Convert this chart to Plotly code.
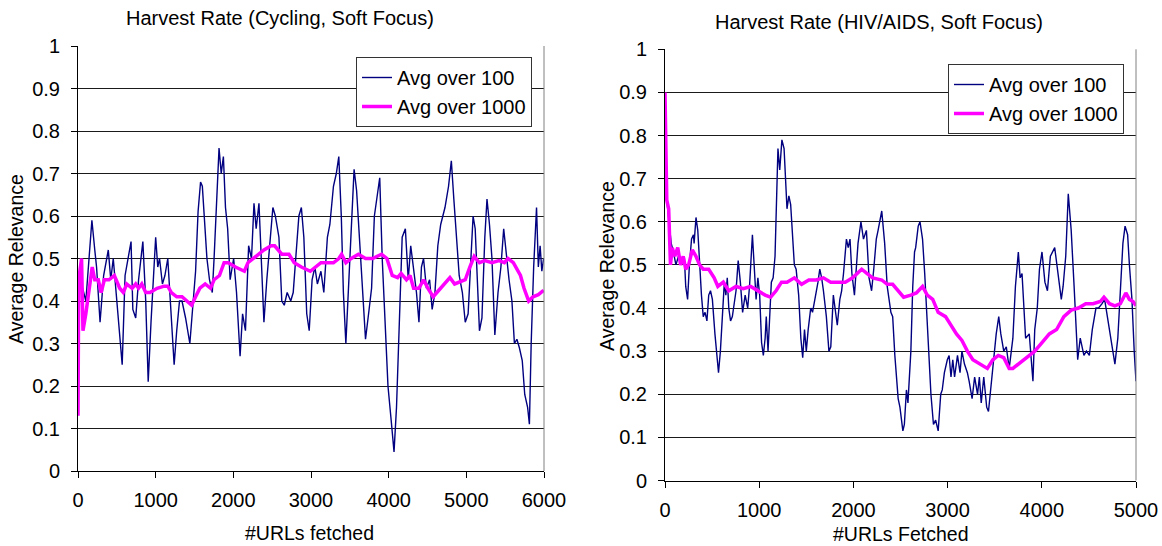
import plotly.graph_objects as go

# ---------------- data: left chart (Cycling) ----------------
cyc_x100 = [0, 32, 101, 179, 216, 239, 284, 330, 390, 422,
            454, 491, 537, 569, 606, 642, 683, 706, 743, 780,
            821, 835, 872, 904, 940, 972, 1000, 1027, 1050, 1087,
            1119, 1156, 1193, 1238, 1271, 1307, 1339, 1385, 1440, 1477,
            1514, 1546, 1578, 1601, 1628, 1660, 1693, 1729, 1752, 1784,
            1816, 1844, 1872, 1899, 1927, 1959, 2004, 2041, 2087, 2119,
            2156, 2197, 2234, 2266, 2294, 2330, 2362, 2394, 2431, 2472,
            2509, 2541, 2587, 2624, 2656, 2693, 2739, 2771, 2807, 2844,
            2876, 2908, 2945, 2977, 3014, 3050, 3082, 3128, 3165, 3211,
            3243, 3289, 3326, 3358, 3390, 3417, 3449, 3486, 3518, 3555,
            3587, 3624, 3665, 3702, 3748, 3780, 3816, 3853, 3885, 3917,
            3954, 3991, 4032, 4069, 4101, 4137, 4174, 4215, 4252, 4284,
            4321, 4358, 4390, 4422, 4449, 4486, 4527, 4560, 4596, 4633,
            4670, 4725, 4771, 4807, 4839, 4872, 4908, 4949, 4986, 5023,
            5055, 5087, 5114, 5146, 5169, 5201, 5238, 5266, 5298, 5330,
            5367, 5408, 5445, 5481, 5514, 5550, 5587, 5619, 5651, 5683,
            5720, 5752, 5789, 5812, 5835, 5867, 5904, 5927, 5950, 5972,
            5995]
cyc_y100 = [0.45, 0.45, 0.40, 0.59, 0.52, 0.48, 0.35, 0.46, 0.52, 0.45,
            0.50, 0.42, 0.30, 0.25, 0.46, 0.50, 0.54, 0.38, 0.36, 0.45,
            0.53, 0.54, 0.40, 0.21, 0.35, 0.45, 0.55, 0.48, 0.50, 0.44,
            0.46, 0.50, 0.38, 0.25, 0.33, 0.40, 0.40, 0.36, 0.30, 0.38,
            0.47, 0.61, 0.68, 0.67, 0.60, 0.50, 0.45, 0.42, 0.50, 0.62,
            0.76, 0.70, 0.74, 0.62, 0.57, 0.45, 0.50, 0.42, 0.27, 0.37,
            0.33, 0.53, 0.50, 0.63, 0.57, 0.63, 0.50, 0.35, 0.45, 0.55,
            0.62, 0.60, 0.55, 0.40, 0.39, 0.42, 0.40, 0.42, 0.50, 0.60,
            0.62, 0.55, 0.37, 0.33, 0.45, 0.48, 0.44, 0.47, 0.42, 0.55,
            0.58, 0.67, 0.70, 0.74, 0.60, 0.42, 0.30, 0.45, 0.58, 0.71,
            0.66, 0.54, 0.40, 0.31, 0.38, 0.43, 0.60, 0.65, 0.69, 0.50,
            0.35, 0.20, 0.12, 0.045, 0.15, 0.35, 0.55, 0.57, 0.45, 0.53,
            0.48, 0.42, 0.35, 0.48, 0.50, 0.43, 0.45, 0.38, 0.42, 0.53,
            0.58, 0.62, 0.67, 0.73, 0.64, 0.55, 0.46, 0.42, 0.35, 0.37,
            0.50, 0.60, 0.57, 0.45, 0.33, 0.36, 0.55, 0.64, 0.58, 0.50,
            0.32, 0.42, 0.48, 0.57, 0.51, 0.45, 0.40, 0.30, 0.31, 0.29,
            0.26, 0.18, 0.15, 0.11, 0.30, 0.48, 0.62, 0.48, 0.53, 0.47,
            0.50]

cyc_x1000 = [0, 9, 46, 64, 101, 147, 183, 216, 261, 298,
             339, 399, 468, 537, 583, 628, 697, 743, 780, 821,
             872, 927, 1018, 1110, 1156, 1202, 1271, 1339, 1408, 1463,
             1514, 1569, 1638, 1706, 1752, 1821, 1881, 1936, 2027, 2142,
             2188, 2257, 2326, 2394, 2486, 2532, 2624, 2716, 2784, 2876,
             2991, 3059, 3128, 3220, 3289, 3358, 3394, 3449, 3518, 3610,
             3702, 3794, 3908, 3977, 4046, 4115, 4160, 4229, 4275, 4321,
             4390, 4449, 4504, 4573, 4642, 4711, 4789, 4849, 4917, 4986,
             5046, 5101, 5169, 5238, 5330, 5421, 5490, 5536, 5605, 5697,
             5743, 5803, 5858, 5927, 5995]
cyc_y1000 = [0.13, 0.45, 0.50, 0.33, 0.37, 0.43, 0.48, 0.45, 0.45, 0.42,
             0.45, 0.45, 0.46, 0.43, 0.42, 0.44, 0.43, 0.44, 0.43, 0.44,
             0.42, 0.42, 0.43, 0.435, 0.435, 0.42, 0.41, 0.41, 0.40, 0.39,
             0.41, 0.43, 0.44, 0.43, 0.45, 0.46, 0.49, 0.49, 0.48, 0.47,
             0.49, 0.50, 0.51, 0.52, 0.53, 0.53, 0.51, 0.51, 0.49, 0.48,
             0.47, 0.48, 0.49, 0.49, 0.49, 0.50, 0.51, 0.49, 0.50, 0.51,
             0.50, 0.50, 0.51, 0.50, 0.46, 0.455, 0.465, 0.45, 0.46, 0.43,
             0.43, 0.45, 0.43, 0.41, 0.425, 0.44, 0.455, 0.44, 0.445, 0.45,
             0.48, 0.505, 0.49, 0.495, 0.49, 0.495, 0.49, 0.50, 0.49, 0.46,
             0.43, 0.40, 0.41, 0.415, 0.425]

# ---------------- data: right chart (HIV/AIDS) ----------------
hiv_x100 = [19, 39, 66, 89, 116, 143, 174, 205, 220, 240,
            259, 282, 302, 309, 329, 348, 367, 387, 406, 425,
            445, 464, 483, 503, 530, 549, 568, 588, 607, 630,
            646, 661, 677, 696, 715, 735, 754, 777, 800, 824,
            851, 878, 897, 928, 947, 967, 986, 1005, 1025, 1044,
            1063, 1075, 1094, 1114, 1129, 1148, 1168, 1199, 1218, 1241,
            1264, 1295, 1315, 1334, 1373, 1392, 1419, 1442, 1462, 1481,
            1500, 1520, 1547, 1566, 1593, 1624, 1643, 1663, 1682, 1713,
            1740, 1760, 1787, 1829, 1856, 1875, 1895, 1926, 1945, 1964,
            1984, 2011, 2049, 2080, 2107, 2138, 2166, 2193, 2216, 2243,
            2262, 2282, 2301, 2332, 2359, 2398, 2417, 2440, 2475, 2494,
            2525, 2541, 2563, 2579, 2610, 2630, 2649, 2661, 2688, 2707,
            2734, 2757, 2777, 2796, 2823, 2850, 2873, 2900, 2927, 2943,
            2966, 2997, 3016, 3036, 3055, 3074, 3105, 3132, 3152, 3179,
            3210, 3229, 3260, 3287, 3318, 3337, 3357, 3384, 3415, 3434,
            3461, 3488, 3516, 3543, 3565, 3596, 3623, 3654, 3677, 3693,
            3720, 3751, 3770, 3790, 3828, 3867, 3906, 3925, 3952, 3975,
            4002, 4033, 4060, 4091, 4137, 4176, 4207, 4226, 4254, 4281,
            4312, 4343, 4381, 4408, 4447, 4474, 4505, 4536, 4575, 4602,
            4640, 4667, 4698, 4729, 4776, 4807, 4834, 4861, 4884, 4911,
            4930, 4957, 4981, 5000]
hiv_y100 = [0.65, 0.60, 0.55, 0.53, 0.50, 0.52, 0.50, 0.52, 0.45, 0.42,
            0.50, 0.56, 0.57, 0.55, 0.61, 0.58, 0.50, 0.43, 0.38, 0.39,
            0.37, 0.43, 0.44, 0.42, 0.34, 0.30, 0.25, 0.30, 0.37, 0.46,
            0.43, 0.47, 0.40, 0.37, 0.38, 0.41, 0.44, 0.51, 0.46, 0.39,
            0.43, 0.40, 0.45, 0.57, 0.50, 0.42, 0.47, 0.43, 0.32, 0.29,
            0.33, 0.38, 0.30, 0.40, 0.46, 0.47, 0.52, 0.77, 0.72, 0.79,
            0.77, 0.63, 0.66, 0.64, 0.50, 0.49, 0.43, 0.33, 0.285, 0.35,
            0.30, 0.35, 0.40, 0.39, 0.42, 0.46, 0.49, 0.47, 0.44, 0.38,
            0.30, 0.31, 0.43, 0.36, 0.42, 0.44, 0.48, 0.56, 0.54, 0.56,
            0.48, 0.43, 0.55, 0.60, 0.56, 0.58, 0.47, 0.44, 0.49, 0.56,
            0.58, 0.60, 0.625, 0.55, 0.45, 0.39, 0.38, 0.29, 0.19, 0.17,
            0.115, 0.13, 0.21, 0.18, 0.30, 0.45, 0.53, 0.54, 0.59, 0.60,
            0.56, 0.48, 0.40, 0.30, 0.20, 0.13, 0.14, 0.115, 0.20, 0.21,
            0.25, 0.28, 0.29, 0.24, 0.28, 0.24, 0.29, 0.25, 0.30, 0.27,
            0.25, 0.23, 0.19, 0.24, 0.20, 0.24, 0.18, 0.24, 0.17, 0.16,
            0.22, 0.27, 0.34, 0.38, 0.34, 0.30, 0.31, 0.26, 0.30, 0.33,
            0.45, 0.53, 0.47, 0.48, 0.33, 0.34, 0.23, 0.35, 0.40, 0.49,
            0.53, 0.46, 0.44, 0.52, 0.54, 0.48, 0.42, 0.45, 0.52, 0.665,
            0.58, 0.45, 0.28, 0.33, 0.29, 0.30, 0.29, 0.35, 0.40, 0.40,
            0.41, 0.42, 0.38, 0.34, 0.27, 0.33, 0.45, 0.55, 0.59, 0.57,
            0.50, 0.42, 0.30, 0.23]

hiv_x1000 = [0, 19, 39, 58, 77, 104, 135, 166, 193, 220,
             251, 290, 329, 367, 406, 464, 522, 561, 619, 677,
             754, 831, 909, 986, 1063, 1121, 1179, 1237, 1295, 1373,
             1450, 1527, 1605, 1682, 1759, 1837, 1914, 1991, 2088, 2146,
             2204, 2301, 2359, 2417, 2475, 2533, 2610, 2668, 2734, 2784,
             2842, 2900, 2978, 3036, 3094, 3152, 3210, 3268, 3345, 3422,
             3480, 3538, 3596, 3654, 3693, 3751, 3809, 3867, 3925, 4002,
             4080, 4157, 4234, 4312, 4389, 4466, 4544, 4621, 4660, 4718,
             4776, 4834, 4892, 4930, 4969, 5000]
hiv_y1000 = [0.90, 0.65, 0.63, 0.50, 0.54, 0.52, 0.54, 0.50, 0.52, 0.49,
             0.50, 0.535, 0.52, 0.50, 0.49, 0.49, 0.47, 0.45, 0.46, 0.44,
             0.45, 0.445, 0.45, 0.44, 0.43, 0.425, 0.44, 0.46, 0.46, 0.47,
             0.455, 0.465, 0.465, 0.47, 0.46, 0.46, 0.46, 0.47, 0.49, 0.48,
             0.47, 0.465, 0.455, 0.455, 0.44, 0.425, 0.43, 0.435, 0.45, 0.43,
             0.42, 0.39, 0.38, 0.36, 0.34, 0.325, 0.30, 0.28, 0.27, 0.26,
             0.28, 0.29, 0.285, 0.26, 0.26, 0.27, 0.28, 0.29, 0.30, 0.32,
             0.34, 0.35, 0.38, 0.395, 0.40, 0.41, 0.41, 0.415, 0.425, 0.41,
             0.405, 0.41, 0.435, 0.42, 0.415, 0.405]

# ---------------- labels / ticks ----------------
y_ticks = [0, 0.1, 0.2, 0.3, 0.4, 0.5, 0.6, 0.7, 0.8, 0.9, 1]
y_tick_text = ["0", "0.1", "0.2", "0.3", "0.4", "0.5", "0.6", "0.7", "0.8", "0.9", "1"]
x_ticks_left = [0, 1000, 2000, 3000, 4000, 5000, 6000]
x_ticks_right = [0, 1000, 2000, 3000, 4000, 5000]
series_names = ["Avg over 100", "Avg over 1000"]
titles = ["Harvest Rate (Cycling, Soft Focus)", "Harvest Rate (HIV/AIDS, Soft Focus)"]
x_titles = ["#URLs fetched", "#URLs Fetched"]
y_title = "Average Relevance"

FONT = "Liberation Sans, Arial, sans-serif"
FS = 19.5
FS_TITLE = 20
FS_TICK = 20
BLUE = "#000080"
MAGENTA = "#FF00FF"
W, H = 1162, 546

fig = go.Figure()
fig.add_trace(go.Scatter(x=cyc_x100, y=cyc_y100, mode="lines", name=series_names[0],
                         line=dict(color=BLUE, width=1.4), xaxis="x", yaxis="y", legend="legend"))
fig.add_trace(go.Scatter(x=cyc_x1000, y=cyc_y1000, mode="lines", name=series_names[1],
                         line=dict(color=MAGENTA, width=3.5), xaxis="x", yaxis="y", legend="legend"))
fig.add_trace(go.Scatter(x=hiv_x100, y=hiv_y100, mode="lines", name=series_names[0],
                         line=dict(color=BLUE, width=1.4), xaxis="x2", yaxis="y2", legend="legend2"))
fig.add_trace(go.Scatter(x=hiv_x1000, y=hiv_y1000, mode="lines", name=series_names[1],
                         line=dict(color=MAGENTA, width=3.5), xaxis="x2", yaxis="y2", legend="legend2"))

def px_x(p):
    return p / W

def px_y(p):
    return 1 - p / H

common_x = dict(showgrid=False, zeroline=False, showline=True, linecolor="black", linewidth=1,
                ticks="outside", ticklen=6, tickcolor="black", tickwidth=1, automargin=False,
                tickfont=dict(family=FONT, size=FS_TICK, color="black"), ticklabelstandoff=5)
common_y = dict(showgrid=True, gridcolor="#1a1a1a", gridwidth=1, zeroline=False, showline=True,
                linecolor="black", linewidth=1, ticks="outside", ticklen=6, tickcolor="black",
                tickwidth=1, tickfont=dict(family=FONT, size=FS_TICK, color="black"),
                tickvals=y_ticks, ticktext=y_tick_text, range=[0, 1], ticklabelstandoff=7,
                automargin=False)

legend_common = dict(font=dict(family=FONT, size=FS_TICK, color="black"), bgcolor="white",
                     bordercolor="#333333", borderwidth=1, xanchor="left", yanchor="top",
                     tracegroupgap=0, itemwidth=30)

fig.update_layout(
    width=W, height=H, margin=dict(l=0, r=0, t=0, b=0, autoexpand=False),
    paper_bgcolor="white", plot_bgcolor="white",
    font=dict(family=FONT, size=FS, color="black"),
    xaxis=dict(domain=[px_x(78), px_x(544)], range=[0, 6000], tickvals=x_ticks_left,
               anchor="y", **common_x),
    yaxis=dict(domain=[px_y(471), px_y(46)], anchor="x", **common_y),
    xaxis2=dict(domain=[px_x(665), px_x(1136)], range=[0, 5000], tickvals=x_ticks_right,
                anchor="y2", **common_x),
    yaxis2=dict(domain=[px_y(480.5), px_y(49.3)], anchor="x2", **common_y),
    legend=dict(x=px_x(356), y=px_y(57), **legend_common),
    legend2=dict(x=px_x(948), y=px_y(64), **legend_common),
    showlegend=True,
)

# right-hand plot-area borders (gray)
for xr, yr in (("x domain", "y domain"), ("x2 domain", "y2 domain")):
    fig.add_shape(type="line", xref=xr, yref=yr, x0=1, x1=1, y0=0, y1=1,
                  line=dict(color="#808080", width=1))

anns = [
    dict(text=titles[0], x=px_x(280), y=px_y(18), size=FS_TITLE),
    dict(text=titles[1], x=px_x(879), y=px_y(22), size=FS_TITLE),
    dict(text=x_titles[0], x=px_x(309), y=px_y(533), size=FS),
    dict(text=x_titles[1], x=px_x(900), y=px_y(534), size=FS),
    dict(text=y_title, x=px_x(16), y=px_y(259), textangle=-90, size=FS),
    dict(text=y_title, x=px_x(607), y=px_y(266), textangle=-90, size=FS),
]
for a in anns:
    size = a.pop("size")
    fig.add_annotation(xref="paper", yref="paper", xanchor="center", yanchor="middle",
                       showarrow=False, font=dict(family=FONT, size=size, color="black"), **a)

fig.write_html("out.html")
